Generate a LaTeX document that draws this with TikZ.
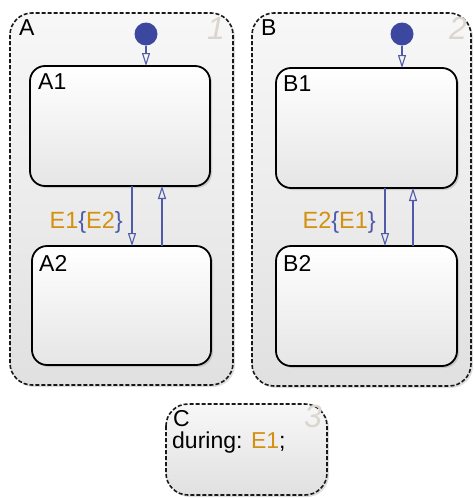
\documentclass[tikz,border=0pt]{standalone}
\usepackage{fontspec}
\setmainfont{Liberation Sans}
\usetikzlibrary{arrows.meta,shadows}
\definecolor{tblue}{HTML}{4F5BA8}
\definecolor{dotblue}{HTML}{3C48A0}
\definecolor{evorange}{HTML}{D4900F}
\definecolor{numgray}{HTML}{DAD6CE}
\tikzset{
  x=1pt, y=-1pt,
  parstate/.style={draw=black!90, line width=1.6pt, dash pattern=on 4pt off 2pt, rounded corners=22pt,
    top color=white!97!black, bottom color=white!88!black, drop shadow={shadow xshift=2pt, shadow yshift=-2pt, opacity=0.25}},
  substate/.style={draw=black, line width=1.8pt, rounded corners=15pt,
    top color=white, bottom color=white!90!black, drop shadow={shadow xshift=2pt, shadow yshift=-2pt, opacity=0.3}},
  lbl/.style={anchor=north west, inner sep=0pt, font=\fontsize{23}{26}\selectfont},
  num/.style={anchor=north east, inner sep=0pt, text=numgray, font=\fontsize{32}{34}\selectfont\itshape},
  trans/.style={draw=tblue, line width=1.1pt, -{Triangle[open, length=13pt, width=8pt]}},
  ev/.style={font=\fontsize{23.5}{26}\selectfont, inner sep=0pt},
  idot/.style={circle, fill=dotblue, minimum size=23pt, inner sep=0pt},
}
\newcommand{\ob}[1]{\textcolor{tblue}{#1}}
\begin{document}
\begin{tikzpicture}
\useasboundingbox (0,0) rectangle (474,498);
% parallel states
\path[parstate] (10,13) rectangle (233,385);
\path[parstate] (252,13) rectangle (471,386);
\path[parstate] (166,404) rectangle (327,495);
\node[lbl] (la) at (19,19) {A};
\node[lbl] (lb) at (261,19) {B};
\node[num] (n1) at (225,17) {1};
\node[num] (n2) at (467,17) {2};
\node[num] (n3) at (322,405) {3};
\node[lbl] (lc) at (173,410) {C};
\node[lbl] (lcd) at (172,432) {during: \textcolor{evorange}{E1};};
% substates
\path[substate] (30,66) rectangle (210,186);
\path[substate] (32,246) rectangle (211,365);
\path[substate] (276,68) rectangle (457,188);
\path[substate] (276,246) rectangle (457,366);
\node[lbl] (la1) at (38,73) {A1};
\node[lbl] (la2) at (39,255) {A2};
\node[lbl] (lb1) at (283,75) {B1};
\node[lbl] (lb2) at (283,255) {B2};
% coordinates for transitions
\coordinate (a1t) at (146,66);
\coordinate (b1t) at (402,68);
\coordinate (a1d) at (132,186);
\coordinate (a2d) at (132,246);
\coordinate (a1u) at (162,186);
\coordinate (a2u) at (162,246);
\coordinate (b1d) at (385,188);
\coordinate (b2d) at (385,246);
\coordinate (b1u) at (413,188);
\coordinate (b2u) at (413,246);
% default transitions
\node[idot] (da) at (146,34) {};
\node[idot] (db) at (402,34) {};
\draw[trans] (da.south) -- (a1t);
\draw[trans] (db.south) -- (b1t);
% transitions
\draw[trans] (a1d) -- (a2d);
\draw[trans] (a2u) -- (a1u);
\draw[trans] (b1d) -- (b2d);
\draw[trans] (b2u) -- (b1u);
\node[ev, anchor=east, text=evorange] (ea) at (123,222) {E1\ob{\{}E2\ob{\}}};
\node[ev, anchor=east, text=evorange] (eb) at (376,222) {E2\ob{\{}E1\ob{\}}};
\end{tikzpicture}
\end{document}
